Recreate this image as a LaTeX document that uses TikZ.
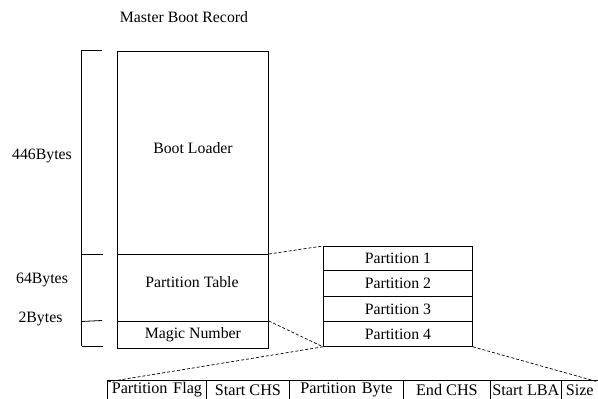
\documentclass[tikz,border=0pt]{standalone}
\usepackage{fontspec}
\setmainfont{Liberation Serif}
\begin{document}
\begin{tikzpicture}[x=1pt,y=-1pt,
  txt/.style={font=\fontsize{15.8}{18}\selectfont, inner sep=0pt},
  cell/.style={draw, line width=0.8pt, inner sep=0pt, anchor=north west,
    font=\fontsize{15.8}{18}\selectfont},
  field/.style={cell, minimum height=19pt, font=\fontsize{16.2}{18}\selectfont},
  link/.style={line width=0.7pt, dash pattern=on 3pt off 2pt},
  brace/.style={line width=0.8pt}]
\useasboundingbox (0,0) rectangle (598,399);

% title and size labels
\node[txt] (title) at (184,17) {Master Boot Record};
\node[txt] (l446) at (42,156) {446Bytes};
\node[txt] (l64) at (42,280) {64Bytes};
\node[txt] (l2) at (40.5,319) {2Bytes};

% MBR layout
\node[cell, minimum width=151pt, minimum height=203pt] (boot) at (117,51) {};
\node[txt] (bootlbl) at (193,148) {Boot Loader};
\node[cell, minimum width=151pt, minimum height=67pt] (ptab) at (117,254) {};
\node[txt] (ptablbl) at (192,282) {Partition Table};
\node[cell, minimum width=151pt, minimum height=27pt] (magic) at (117,321) {Magic Number};

% size bracket
\coordinate (b0) at (81.5,50);
\coordinate (b1) at (81.5,254);
\coordinate (b2) at (81.5,321.5);
\coordinate (b3) at (81.5,346);
\draw[brace] (b0) -- (b3);
\draw[brace] (b0) -- (102,50);
\draw[brace] (b1) -- (103,254);
\draw[brace] (b2) -- (102,320.5);
\draw[brace] (b3) -- (103,346);

% partition entries
\node[cell, minimum width=149pt, minimum height=24pt] (p1) at (323,246) {Partition 1};
\node[cell, minimum width=149pt, minimum height=26pt] (p2) at (323,270) {Partition 2};
\node[cell, minimum width=149pt, minimum height=25pt] (p3) at (323,296) {Partition 3};
\node[cell, minimum width=149pt, minimum height=25pt] (p4) at (323,321) {Partition 4};

% partition entry fields
\node[field, minimum width=99pt] (f1) at (107,380) {Partition\hspace{0.35em}Flag};
\node[field, minimum width=83pt] (f2) at (206,380) {Start CHS};
\node[field, minimum width=114pt] (f3) at (289,380) {Partition\hspace{0.35em}Byte};
\node[field, minimum width=87pt] (f4) at (403,380) {End CHS};
\node[field, minimum width=71pt] (f5) at (490,380) {Start LBA};
\node[field, minimum width=36.6pt] (f6) at (561,380) {Size};

% zoom links
\draw[link] (ptab.north east) -- (p1.north west);
\draw[link] (magic.north east) -- (p4.south west);
\draw[link] (p4.south west) -- ([yshift=-2pt]f1.north west);
\draw[link] (p4.south east) -- ([yshift=-2pt]f6.north east);
\end{tikzpicture}
\end{document}
